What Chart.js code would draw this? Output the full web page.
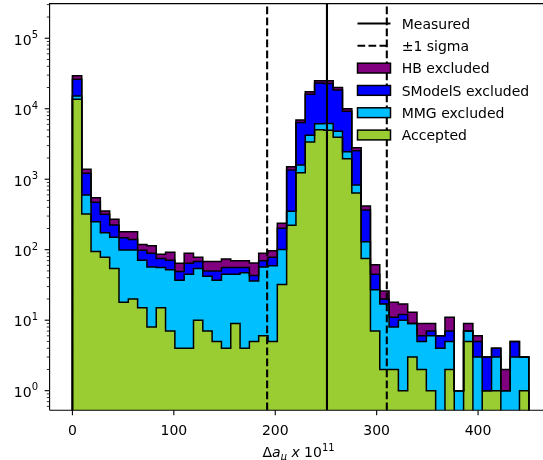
<!DOCTYPE html>
<html>
<head>
<meta charset="utf-8">
<script src="https://cdn.jsdelivr.net/npm/chart.js@4.4.0/dist/chart.umd.min.js"></script>
<style>
    html, body { margin: 0; padding: 0; overflow: hidden; background: #fff; }
    canvas { display: block; }
</style>
</head>
<body>
<canvas id="chartContainerHist" width="555" height="460"></canvas>
<script>
// histogram binning: 49 equal bins from 0 to 450
const binStart = 0;
const binEnd = 450;
const binCount = 49;

// counts per bin, stacked bottom to top
const accepted = [13600, 321, 94, 78, 54, 18, 20, 15, 8, 15, 7, 4, 4, 10, 7, 5, 4, 9, 4, 5,
    6, 5, 32, 222, 1237, 3370, 5036, 4940, 3943, 1954, 637, 75, 7, 2, 2, 1, 3, 2, 1, 0,
    2, 0, 5, 0, 1, 1, 0, 0, 1];
const mmgExcluded = [1500, 276, 156, 96, 96, 81, 79, 56, 49, 41, 45, 33, 41, 44, 35, 32, 41, 36, 43, 31,
    51, 54, 69, 130, 353, 825, 1089, 1210, 837, 501, 191, 55, 20, 15, 6, 9, 6, 3, 5, 4,
    3, 1, 2, 3, 0, 2, 1, 3, 2];
const smodelsExcluded = [11000, 616, 220, 144, 74, 49, 41, 27, 32, 19, 19, 12, 19, 14, 8, 13, 11, 11, 9, 7,
    13, 19, 100, 998, 4780, 11805, 17075, 16650, 13620, 6735, 1709, 236, 18, 3, 3, 2, 0, 1, 1, 2,
    2, 0, 0, 2, 2, 1, 0, 2, 0];
const hbExcluded = [3300, 168, 77, 36, 46, 32, 40, 21, 25, 11, 21, 15, 25, 10, 18, 18, 18, 14, 14, 22,
    19, 19, 36, 154, 540, 1400, 1700, 2100, 1600, 780, 263, 51, 16, 6, 7, 5, 4, 3, 2, 0,
    4, 0, 2, 1, 0, 0, 1, 0, 0];

const seriesLabels = ['Accepted', 'MMG excluded', 'SModelS excluded', 'HB excluded'];
const seriesColors = ['#9acd32', '#00bfff', '#0000ff', '#800080'];

// measured value and +-1 sigma band
const measured = 251;
const sigmaLow = 192;
const sigmaHigh = 310;

const xTicks = [0, 100, 200, 300, 400];
const yDecades = [-1, 0, 1, 2, 3, 4, 5];
const lineLabels = ['Measured', '±1 sigma'];

const fontFamily = '"DejaVu Sans", sans-serif';
const floorValue = 0.1;

function stepPoints(tops) {
    let width = (binEnd - binStart) / binCount;
    let pts = [{ x: binStart, y: floorValue }];
    for (let i = 0; i < tops.length; i++) {
        pts.push({ x: binStart + i * width, y: Math.max(tops[i], floorValue) });
    }
    pts.push({ x: binEnd, y: floorValue });
    return pts;
}

// cumulative tops for the stacked layers
let layers = [accepted, mmgExcluded, smodelsExcluded, hbExcluded];
let running = accepted.map(() => 0);
let datasets = [];
for (let k = 0; k < layers.length; k++) {
    running = running.map((v, i) => v + layers[k][i]);
    datasets.push({
        label: seriesLabels[k],
        data: stepPoints(running),
        stepped: 'before',
        borderColor: '#000',
        borderWidth: 1.5,
        backgroundColor: seriesColors[k],
        fill: k === 0 ? 'start' : '-1',
        pointRadius: 0,
        tension: 0
    });
}

function isDecade(v) {
    let l = Math.log10(v);
    return Math.abs(l - Math.round(l)) < 1e-9;
}

// draws a run of text pieces (font, vertical shift) starting at x
function drawPieces(ctx, parts, x, baseline, align) {
    let total = 0;
    for (let p of parts) {
        ctx.font = p.font;
        p.w = ctx.measureText(p.t).width;
        total += p.w;
    }
    if (align === 'center') x -= total / 2;
    if (align === 'right') x -= total;
    ctx.textAlign = 'left';
    ctx.textBaseline = 'alphabetic';
    ctx.fillStyle = '#000';
    for (let p of parts) {
        ctx.font = p.font;
        ctx.fillText(p.t, x, baseline + p.dy);
        x += p.w;
    }
}

const axesPlugin = {
    id: 'axesPlugin',
    afterDatasetsDraw(chart) {
        const { ctx, chartArea: a, scales: { x } } = chart;
        ctx.save();
        ctx.beginPath();
        ctx.rect(a.left, a.top, a.right - a.left, a.bottom - a.top);
        ctx.clip();
        ctx.strokeStyle = '#000';
        ctx.lineWidth = 2.1;
        let px = x.getPixelForValue(measured);
        ctx.beginPath();
        ctx.moveTo(px, a.bottom);
        ctx.lineTo(px, a.top);
        ctx.stroke();
        ctx.setLineDash([7.7, 3.3]);
        for (let v of [sigmaLow, sigmaHigh]) {
            let p = x.getPixelForValue(v);
            ctx.beginPath();
            ctx.moveTo(p, a.bottom);
            ctx.lineTo(p, a.top);
            ctx.stroke();
        }
        ctx.restore();
    },
    afterDraw(chart) {
        const { ctx, chartArea: a, scales: { x, y } } = chart;
        ctx.save();
        ctx.strokeStyle = '#000';

        // spines
        ctx.lineWidth = 1.1;
        ctx.beginPath();
        ctx.moveTo(a.left, a.bottom);
        ctx.lineTo(a.left, a.top);
        ctx.lineTo(a.right, a.top);
        ctx.moveTo(a.left, a.bottom);
        ctx.lineTo(a.right, a.bottom);
        ctx.stroke();

        // ticks and tick labels
        for (let t of x.ticks) {
            let p = x.getPixelForValue(t.value);
            ctx.lineWidth = 1.1;
            ctx.beginPath();
            ctx.moveTo(p, a.bottom);
            ctx.lineTo(p, a.bottom + 4.9);
            ctx.stroke();
            drawPieces(ctx, [{ t: String(t.value), font: '14px ' + fontFamily, dy: 0 }], p, 435, 'center');
        }
        for (let t of y.ticks) {
            let major = isDecade(t.value);
            let p = y.getPixelForValue(t.value);
            ctx.lineWidth = major ? 1.1 : 0.8;
            ctx.beginPath();
            ctx.moveTo(a.left, p);
            ctx.lineTo(a.left - (major ? 4.9 : 2.8), p);
            ctx.stroke();
            if (major) {
                let exp = String(Math.round(Math.log10(t.value)));
                drawPieces(ctx, [
                    { t: '10', font: '14px ' + fontFamily, dy: 0 },
                    { t: exp, font: '10px ' + fontFamily, dy: -6.5 }
                ], 38, p + 6.3, 'right');
            }
        }

        // legend
        let rowY = 23.5;
        let rowGap = 22.3;
        let hx0 = 357.5;
        let hx1 = 390.5;
        let textX = 401.7;
        let entries = [
            { kind: 'line', label: lineLabels[0] },
            { kind: 'dash', label: lineLabels[1] }
        ];
        for (let k = layers.length - 1; k >= 0; k--) {
            entries.push({ kind: 'box', label: seriesLabels[k], color: seriesColors[k] });
        }
        entries.forEach((e, i) => {
            let cy = rowY + i * rowGap;
            if (e.kind === 'box') {
                ctx.fillStyle = e.color;
                ctx.fillRect(hx0, cy - 4.9, hx1 - hx0, 9.8);
                ctx.lineWidth = 1.5;
                ctx.setLineDash([]);
                ctx.strokeRect(hx0, cy - 4.9, hx1 - hx0, 9.8);
            } else {
                ctx.lineWidth = 2.1;
                ctx.setLineDash(e.kind === 'dash' ? [7.7, 3.3] : []);
                ctx.beginPath();
                ctx.moveTo(hx0, cy);
                ctx.lineTo(hx1, cy);
                ctx.stroke();
                ctx.setLineDash([]);
            }
            drawPieces(ctx, [{ t: e.label, font: '14px ' + fontFamily, dy: 0 }], textX, cy + 5.3, 'left');
        });

        // axis title
        drawPieces(ctx, [
            { t: 'Δ', font: '14px ' + fontFamily, dy: 0 },
            { t: 'a', font: 'italic 14px ' + fontFamily, dy: 0 },
            { t: 'μ', font: 'italic 9.8px ' + fontFamily, dy: 2.6 },
            { t: ' x ', font: 'italic 14px ' + fontFamily, dy: 0 },
            { t: '10', font: '14px ' + fontFamily, dy: 0 },
            { t: '11', font: '10px ' + fontFamily, dy: -6.5 }
        ], (a.left + a.right) / 2 - 2, 457, 'center');
        ctx.restore();
    }
};

function initHistogram() {
    let canvas = document.getElementById('chartContainerHist');
    new Chart(canvas, {
        type: 'line',
        data: { datasets: datasets },
        options: {
            responsive: false,
            animation: false,
            events: [],
            layout: { padding: { top: 3.6, right: 3.4, left: 0, bottom: 0 } },
            plugins: {
                legend: { display: false },
                tooltip: { enabled: false },
                filler: { drawTime: 'beforeDatasetsDraw' }
            },
            scales: {
                x: {
                    type: 'linear',
                    min: -22.5,
                    max: 472.5,
                    grid: { display: false, drawTicks: false },
                    border: { display: false },
                    ticks: { display: false },
                    afterBuildTicks: (scale) => {
                        scale.ticks = xTicks.map(v => ({ value: v }));
                    },
                    afterFit: (scale) => {
                        scale.height = 49.7;
                        scale.paddingLeft = 0;
                        scale.paddingRight = 0;
                    }
                },
                y: {
                    type: 'logarithmic',
                    min: 0.527,
                    max: 3.1e5,
                    grid: { display: false, drawTicks: false },
                    border: { display: false },
                    ticks: { display: false },
                    afterBuildTicks: (scale) => {
                        let ticks = [];
                        for (let d of yDecades) {
                            for (let m = 1; m < 10; m++) {
                                let v = m * Math.pow(10, d);
                                if (v >= scale.min && v <= scale.max) {
                                    ticks.push({ value: v, major: m === 1 });
                                }
                            }
                        }
                        scale.ticks = ticks;
                    },
                    afterFit: (scale) => {
                        scale.width = 49.6;
                        scale.paddingTop = 0;
                        scale.paddingBottom = 0;
                    }
                }
            }
        },
        plugins: [axesPlugin]
    });
}

window.addEventListener('load', initHistogram);
</script>
</body>
</html>
